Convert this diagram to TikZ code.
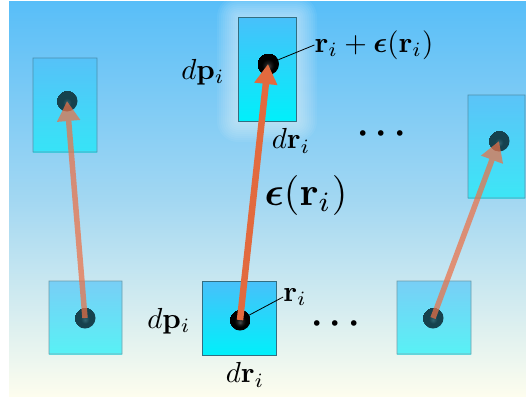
\documentclass[tikz,border=0pt]{standalone}
\usepackage{amsmath,bm}
\usetikzlibrary{arrows.meta}
\definecolor{bgtop}{RGB}{88,190,248}
\definecolor{bgmid}{RGB}{162,215,242}
\definecolor{bgbot}{RGB}{253,253,238}
\definecolor{boxtop}{RGB}{72,192,250}
\definecolor{boxbot}{RGB}{0,240,250}
\definecolor{boxedge}{RGB}{50,110,130}
\definecolor{arrowc}{RGB}{226,106,62}
\definecolor{fadearrow}{RGB}{236,112,70}
\definecolor{fdotin}{RGB}{48,100,112}
\definecolor{fdotout}{RGB}{22,66,78}
\pgfdeclareradialshading{dotshade}{\pgfpoint{0bp}{-6bp}}{color(0bp)=(black!70);color(7bp)=(black!90);color(14bp)=(black);color(25bp)=(black)}
\pgfdeclareradialshading{fdotshade}{\pgfpoint{0bp}{-5bp}}{color(0bp)=(fdotin);color(10bp)=(fdotout);color(25bp)=(fdotout)}
\newcommand{\lbl}[1]{\scalebox{2.9}{$#1$}}
\newcommand{\blbl}[1]{\scalebox{4.0}{$#1$}}
\tikzset{
  cell/.style={draw=boxedge, line width=0.8pt, top color=boxtop, bottom color=boxbot},
  faded/.style={transparency group, opacity=0.62},
  fadedvec/.style={transparency group, opacity=0.72},
  dot/.style={circle, inner sep=0pt, minimum size=21pt, shading=dotshade},
  fdot/.style={circle, inner sep=0pt, minimum size=21pt, shading=fdotshade},
  lab/.style={inner sep=0pt},
  vec/.style={draw=arrowc, line width=6pt, -{Triangle[width=22pt,length=20pt]}},
  leader/.style={draw=black, line width=0.8pt}
}
\begin{document}
\begin{tikzpicture}[x=1pt,y=-1pt]
\useasboundingbox (0,0) rectangle (526,399);
\fill[white] (0,0) rectangle (526,399);
\shade[top color=bgtop, bottom color=bgbot, middle color=bgmid] (9,1) rectangle (526,396);

% glow around top center cell
\foreach \g in {1,3,...,21}{
  \fill[white, opacity=0.055, rounded corners=\g pt] (238-\g,17-\g) rectangle (296+\g,121+\g);
}

% faded cells
\begin{scope}[faded]
  \path[cell] (33,58) rectangle (97,152);
\end{scope}
\node[fdot] (d1) at (67,101) {};
\begin{scope}[faded]
  \path[cell] (468,95) rectangle (525,198);
\end{scope}
\node[fdot] (d3) at (499,141) {};
\begin{scope}[faded]
  \path[cell] (49,281) rectangle (122,354);
\end{scope}
\node[fdot] (b1) at (85,318) {};
\begin{scope}[faded]
  \path[cell] (397,281) rectangle (471,354);
\end{scope}
\node[fdot] (b3) at (433,318) {};

% main cells
\path[cell] (238,17) rectangle (296,121);
\node[dot, minimum size=22pt] (d2) at (268,64) {};
\path[cell] (202,281) rectangle (276,355);
\node[dot] (b2) at (240,320) {};

% arrows
\begin{scope}[fadedvec]
  \draw[vec, draw=fadearrow, line width=5.5pt] (b1.center) -- (d1.center);
\end{scope}
\begin{scope}[fadedvec]
  \draw[vec, draw=fadearrow, line width=5.5pt] (b3.center) -- (d3.center);
\end{scope}
\draw[vec, line width=6.5pt] (b2.center) -- (d2.center);

% labels
\node[lab] (tdp) at (203,72) {\lbl{d\mathbf{p}_i}};
\node[lab] (tlab) at (374,45) {\lbl{\mathbf{r}_i+\bm{\epsilon}(\mathbf{r}_i)}};
\node[lab] (tdr) at (291,141) {\lbl{d\mathbf{r}_i}};
\node[lab] (tdots) at (385,134) {\scalebox{3.6}{$\bm{\cdots}$}};
\node[lab] (eps) at (306,195) {\blbl{\bm{\epsilon}(\mathbf{r}_i)}};
\node[lab] (bri) at (295,297) {\lbl{\mathbf{r}_i}};
\node[lab] (bdp) at (169,321) {\lbl{d\mathbf{p}_i}};
\node[lab] (bdr) at (245,375) {\lbl{d\mathbf{r}_i}};
\node[lab] (bdots) at (339,324) {\scalebox{3.6}{$\bm{\cdots}$}};

\draw[leader] (d2) -- (tlab.west);
\draw[leader] (b2) -- (bri.west);
\end{tikzpicture}
\end{document}
